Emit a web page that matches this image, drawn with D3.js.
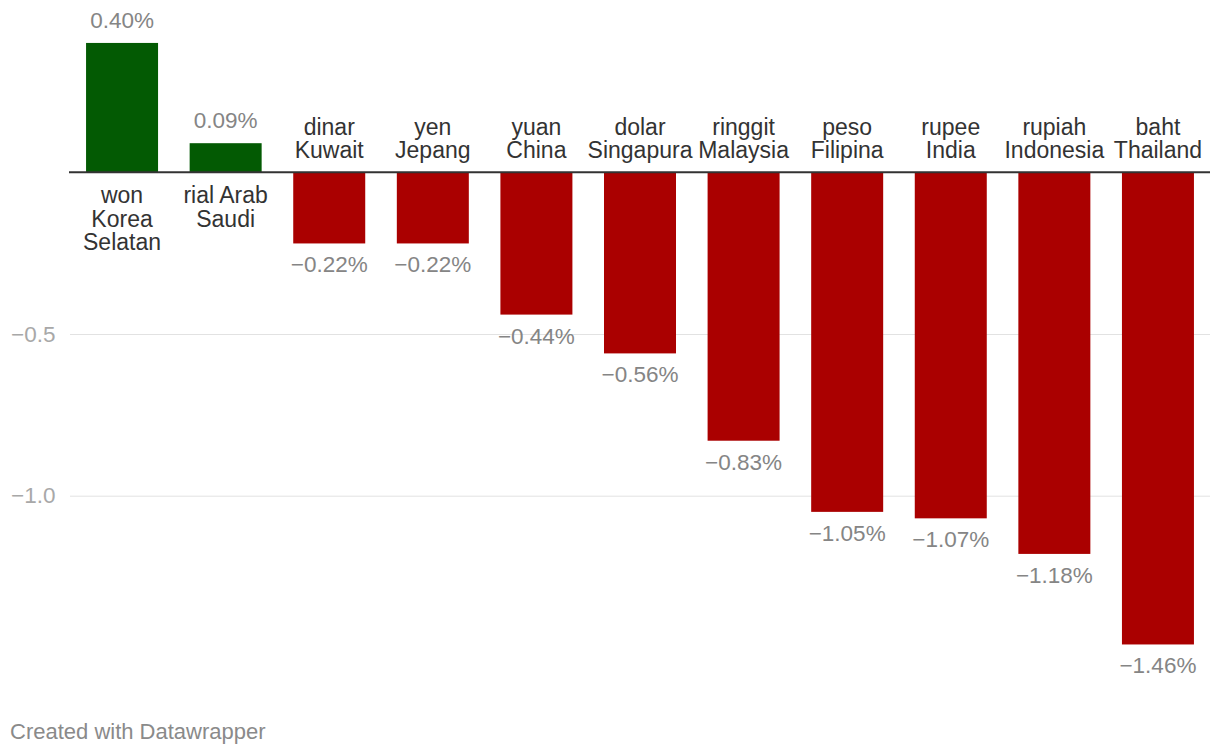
<!DOCTYPE html>
<html>
<head>
<meta charset="utf-8">
<script src="https://cdn.jsdelivr.net/npm/d3@7"></script>
<style>
  body { margin: 0; background: #fff; }
  svg { font-family: "Helvetica Neue", Helvetica, Arial, "Liberation Sans", sans-serif; }
</style>
</head>
<body>
<div id="chart"></div>
<script>
var categories = [
  "won\nKorea\nSelatan", "rial Arab\nSaudi", "dinar\nKuwait", "yen\nJepang", "yuan\nChina",
  "dolar\nSingapura", "ringgit\nMalaysia", "peso\nFilipina", "rupee\nIndia",
  "rupiah\nIndonesia", "baht\nThailand"
];
var values = [0.40, 0.09, -0.22, -0.22, -0.44, -0.56, -0.83, -1.05, -1.07, -1.18, -1.46];
var tickValues = [-0.5, -1.0];
var footer = "Created with Datawrapper";

var svgWidth = 1220;
var svgHeight = 756;

var svg = d3.select('#chart')
  .append('svg')
  .attr('width', svgWidth)
  .attr('height', svgHeight);

var data = categories.map(function(c, i) {
  return { label: c, value: values[i] };
});

// scales
var xScale = d3.scaleBand()
  .domain(d3.range(data.length))
  .range([70, 1210])
  .paddingInner(0.305)
  .paddingOuter(0.155);

var yScale = d3.scaleLinear()
  .domain([0, -1])
  .range([172.3, 495.7]);

// grid + tick labels
var leftAxis = d3.axisLeft(yScale)
  .tickValues(tickValues)
  .tickSize(-1140)
  .tickFormat(d3.format('.1f'));

var axisG = svg.append('g')
  .attr('transform', 'translate(70, 0)')
  .call(leftAxis);

axisG.select('.domain').remove();
axisG.selectAll('.tick line')
  .attr('stroke', '#e2e2e2')
  .attr('stroke-width', 1);
axisG.selectAll('.tick text')
  .attr('x', -59)
  .attr('text-anchor', 'start')
  .attr('fill', '#a8a8a8')
  .attr('font-size', 22.5)
  .attr('font-family', null);

// bars
svg.selectAll('rect.bar')
  .data(data)
  .enter()
  .append('rect')
  .attr('class', 'bar')
  .attr('x', (d, i) => xScale(i))
  .attr('width', xScale.bandwidth())
  .attr('y', d => yScale(Math.max(0, d.value)))
  .attr('height', d => Math.abs(yScale(d.value) - yScale(0)))
  .attr('fill', d => d.value >= 0 ? '#035a03' : '#aa0000');

// zero line
svg.append('line')
  .attr('x1', 69)
  .attr('x2', 1210)
  .attr('y1', yScale(0))
  .attr('y2', yScale(0))
  .attr('stroke', '#333')
  .attr('stroke-width', 2);

// value labels
var fmt = d3.format('.2f');
svg.selectAll('text.value')
  .data(data)
  .enter()
  .append('text')
  .attr('class', 'value')
  .attr('x', (d, i) => xScale(i) + xScale.bandwidth() / 2)
  .attr('y', d => d.value >= 0 ? yScale(d.value) - 15 : yScale(d.value) + 29)
  .attr('text-anchor', 'middle')
  .attr('font-size', 22.5)
  .attr('fill', '#858585')
  .text(d => fmt(d.value) + '%');

// category labels
var lineH = 23.5;
var catG = svg.selectAll('text.cat')
  .data(data)
  .enter()
  .append('text')
  .attr('class', 'cat')
  .attr('text-anchor', 'middle')
  .attr('font-size', 23)
  .attr('fill', '#333');

catG.each(function(d, i) {
  var lines = d.label.split('\n');
  var cx = xScale(i) + xScale.bandwidth() / 2;
  var y0 = d.value >= 0
    ? yScale(0) + 31
    : yScale(0) - 14 - (lines.length - 1) * lineH;
  var t = d3.select(this);
  lines.forEach(function(l, k) {
    t.append('tspan')
      .attr('x', cx)
      .attr('y', y0 + k * lineH)
      .text(l);
  });
});

// footer
svg.append('text')
  .attr('x', 10)
  .attr('y', 739)
  .attr('font-size', 22)
  .attr('fill', '#8a8a8a')
  .text(footer);
</script>
</body>
</html>
